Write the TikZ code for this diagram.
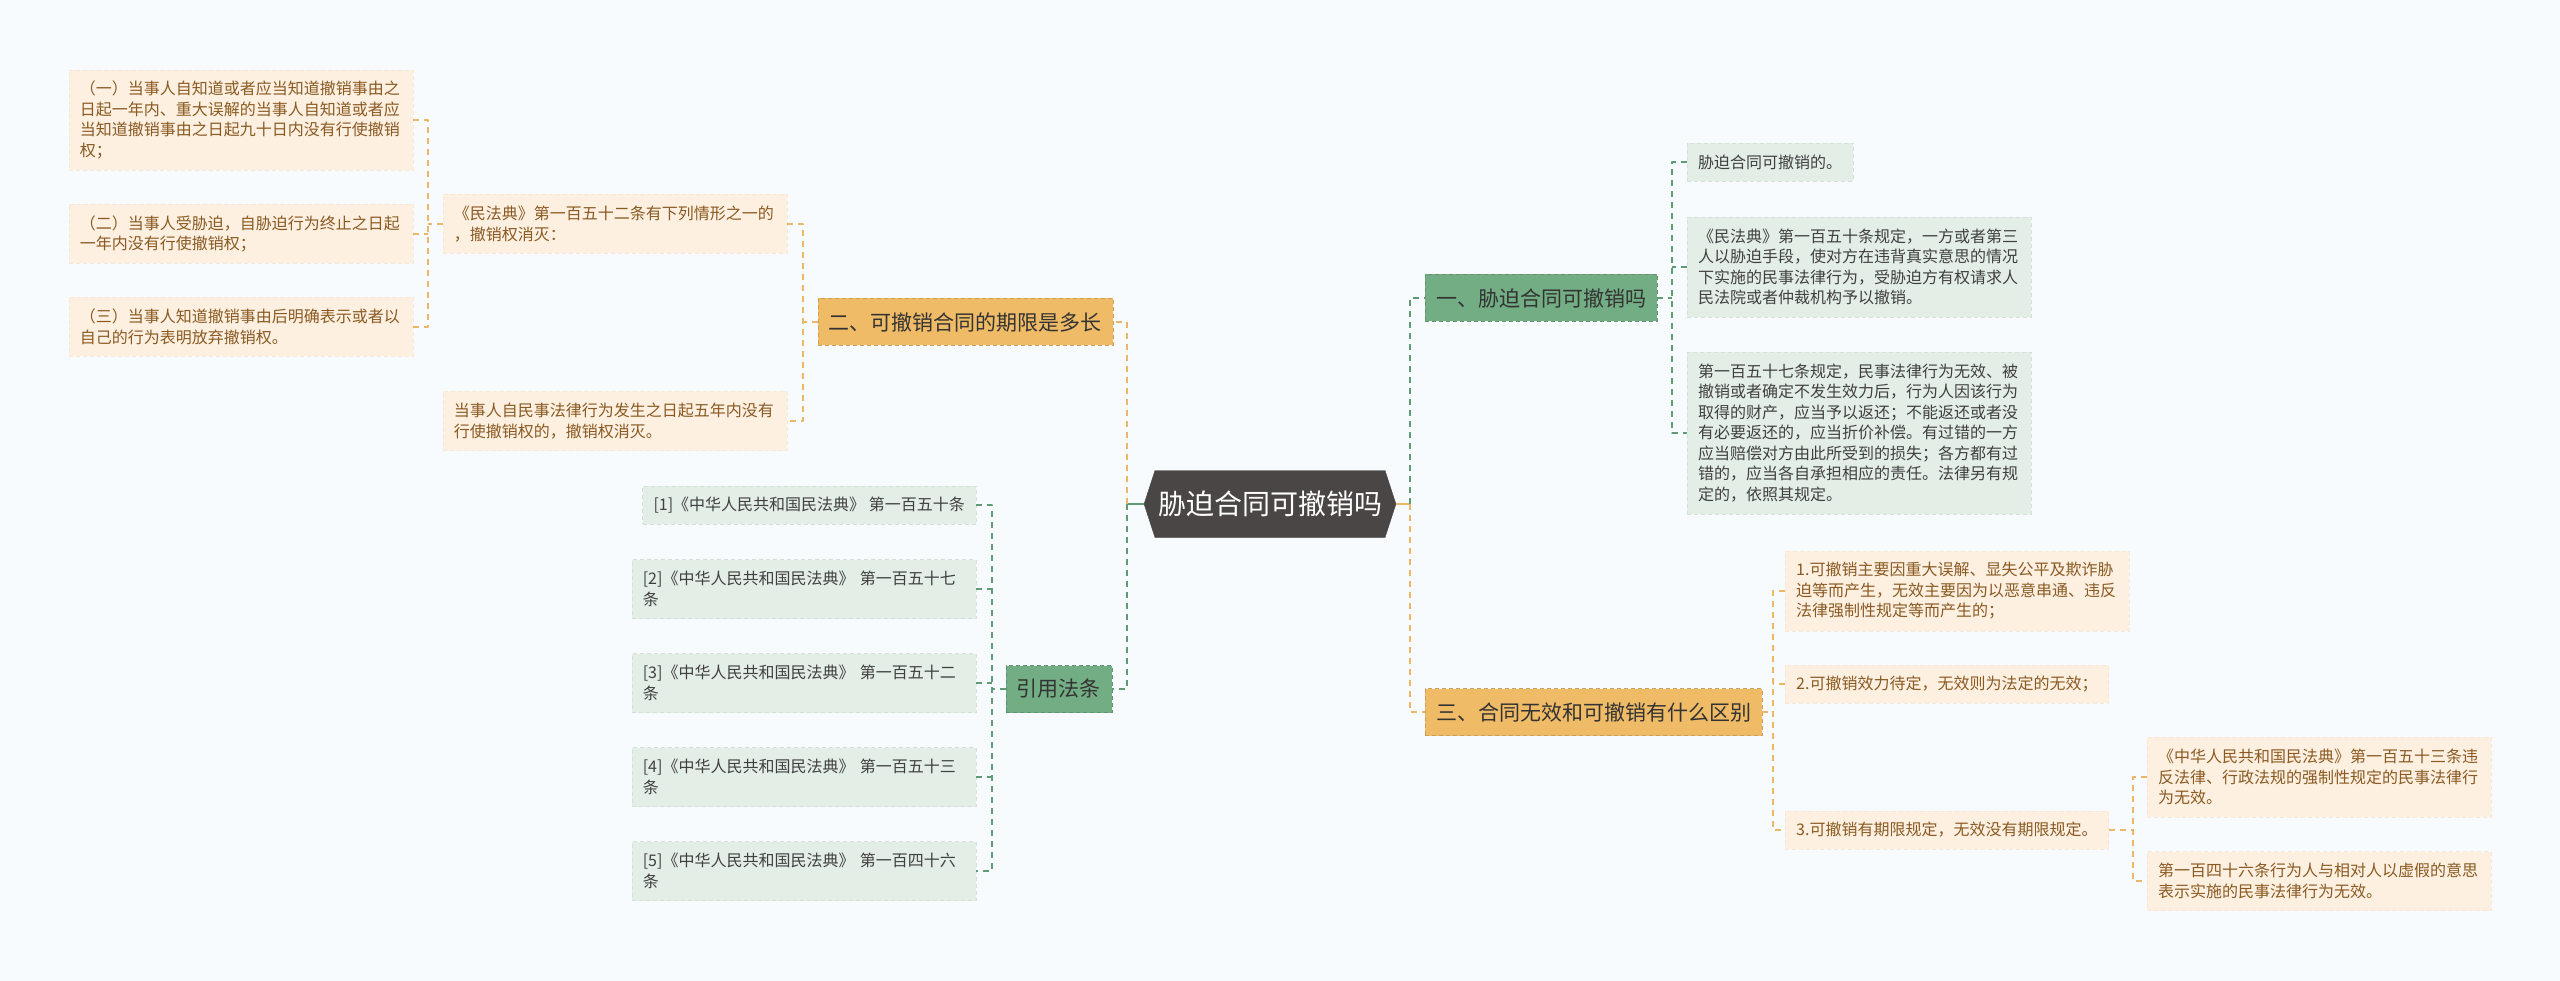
\documentclass[tikz,border=0pt]{standalone}
\usepackage{fontspec}
\setmainfont{Noto Sans CJK SC}
\usetikzlibrary{shapes.symbols}
\definecolor{bgc}{HTML}{F8FBFD}
\definecolor{rootc}{HTML}{4A4646}
\definecolor{orangeB}{HTML}{EFBB67}
\definecolor{greenB}{HTML}{73AD84}
\definecolor{creamL}{HTML}{FDF0E1}
\definecolor{mintL}{HTML}{E3EEE7}
\definecolor{brownT}{HTML}{8A5A22}
\definecolor{orangeC}{HTML}{E9B767}
\definecolor{greenC}{HTML}{5F9C76}
\begin{document}
\begin{tikzpicture}[x=1pt,y=-1pt,line join=round,
	root/.style={shape=signal,signal to=west and east,signal pointer angle=144,fill=rootc,draw=black!75,text=white,font=\fontsize{28}{32}\selectfont,minimum height=67pt,inner xsep=3pt},
	branchO/.style={fill=orangeB,draw=orangeB!85!black,dash pattern=on 4pt off 3pt,text=black!80,font=\fontsize{21}{25}\selectfont,minimum height=47pt,inner xsep=11pt},
	branchG/.style={branchO,fill=greenB,draw=greenB!85!black},
	leafO/.style={fill=creamL,draw=creamL!94!brownT,dash pattern=on 4pt off 3pt,text=brownT,font=\fontsize{16}{20.5}\selectfont,align=left,inner xsep=11pt,inner ysep=0pt},
	leafG/.style={leafO,fill=mintL,draw=mintL!94!black,text=black!75},
	nl/.style={minimum height=#1*20.5pt+18pt},
	lnO/.style={orangeC,line width=1.5pt,dash pattern=on 6pt off 5pt},
	lnG/.style={greenC,line width=1.5pt,dash pattern=on 6pt off 5pt}]
	\fill[bgc] (0,0) rectangle (2560,981);
	\useasboundingbox (0,0) rectangle (2560,981);
	\node[root] (root) at (1270,504) {胁迫合同可撤销吗};
	\coordinate (stubL) at (1127,504);
	\coordinate (stubR) at (1410,504);
	% 一
	\node[branchG,anchor=west] (one) at (1425,298) {一、胁迫合同可撤销吗};
	\node[leafG,nl=1,anchor=west] (one-a) at (1687,162) {胁迫合同可撤销的。};
	\node[leafG,nl=4,text width=322pt,anchor=west] (one-b) at (1687,267) {《民法典》第一百五十条规定，一方或者第三\\人以胁迫手段，使对方在违背真实意思的情况\\下实施的民事法律行为，受胁迫方有权请求人\\民法院或者仲裁机构予以撤销。};
	\node[leafG,nl=7,text width=322pt,anchor=west] (one-c) at (1687,433) {第一百五十七条规定，民事法律行为无效、被\\撤销或者确定不发生效力后，行为人因该行为\\取得的财产，应当予以返还；不能返还或者没\\有必要返还的，应当折价补偿。有过错的一方\\应当赔偿对方由此所受到的损失；各方都有过\\错的，应当各自承担相应的责任。法律另有规\\定的，依照其规定。};
	\coordinate (jOne) at (1672,298);
	% 三
	\node[branchO,anchor=west] (three) at (1425,712) {三、合同无效和可撤销有什么区别};
	\node[leafO,nl=3,text width=322pt,anchor=west] (three-a) at (1785,591) {1.可撤销主要因重大误解、显失公平及欺诈胁\\迫等而产生，无效主要因为以恶意串通、违反\\法律强制性规定等而产生的；};
	\node[leafO,nl=1,anchor=west] (three-b) at (1785,684) {2.可撤销效力待定，无效则为法定的无效；};
	\node[leafO,nl=1,anchor=west] (three-c) at (1785,830) {3.可撤销有期限规定，无效没有期限规定。};
	\node[leafO,nl=3,text width=322pt,anchor=west] (three-c1) at (2147,777) {《中华人民共和国民法典》第一百五十三条违\\反法律、行政法规的强制性规定的民事法律行\\为无效。};
	\node[leafO,nl=2,text width=322pt,anchor=west] (three-c2) at (2147,881) {第一百四十六条行为人与相对人以虚假的意思\\表示实施的民事法律行为无效。};
	\coordinate (jThree) at (1773,712);
	\coordinate (jThreeC) at (2133,830);
	% 二
	\node[branchO,anchor=east] (two) at (1113,322) {二、可撤销合同的期限是多长};
	\node[leafO,nl=2,text width=322pt,anchor=east] (two-a) at (787,224) {《民法典》第一百五十二条有下列情形之一的\\，撤销权消灭：};
	\node[leafO,nl=2,text width=322pt,anchor=east] (two-b) at (787,421) {当事人自民事法律行为发生之日起五年内没有\\行使撤销权的，撤销权消灭。};
	\node[leafO,nl=4,text width=322pt,anchor=east] (two-a1) at (413,120) {（一）当事人自知道或者应当知道撤销事由之\\日起一年内、重大误解的当事人自知道或者应\\当知道撤销事由之日起九十日内没有行使撤销\\权；};
	\node[leafO,nl=2,text width=322pt,anchor=east] (two-a2) at (413,234) {（二）当事人受胁迫，自胁迫行为终止之日起\\一年内没有行使撤销权；};
	\node[leafO,nl=2,text width=322pt,anchor=east] (two-a3) at (413,327) {（三）当事人知道撤销事由后明确表示或者以\\自己的行为表明放弃撤销权。};
	\coordinate (jTwo) at (803,322);
	\coordinate (jTwoA) at (428,224);
	% 引用法条
	\node[branchG,anchor=east] (cite) at (1112,689) {引用法条};
	\node[leafG,nl=1,anchor=east] (cite-1) at (976,505) {[1]《中华人民共和国民法典》 第一百五十条};
	\node[leafG,nl=2,text width=322pt,anchor=east] (cite-2) at (976,589) {[2]《中华人民共和国民法典》 第一百五十七\\条};
	\node[leafG,nl=2,text width=322pt,anchor=east] (cite-3) at (976,683) {[3]《中华人民共和国民法典》 第一百五十二\\条};
	\node[leafG,nl=2,text width=322pt,anchor=east] (cite-4) at (976,777) {[4]《中华人民共和国民法典》 第一百五十三\\条};
	\node[leafG,nl=2,text width=322pt,anchor=east] (cite-5) at (976,871) {[5]《中华人民共和国民法典》 第一百四十六\\条};
	\coordinate (jCite) at (992,689);
	% connectors
	\draw[greenC,line width=2pt] (root.west) -- (stubL);
	\draw[orangeC,line width=2pt] (root.east) -- (stubR);
	\draw[lnO] (stubL) |- (two.east);
	\draw[lnG] (stubL) |- (cite.east);
	\draw[lnG] (stubR) |- (one.west);
	\draw[lnO] (stubR) |- (three.west);
	\draw[lnG] (one.east) -- (jOne);
	\draw[lnG] (one-a.west) -| (jOne) |- (one-c.west);
	\draw[lnG] (one-b.west) -- (one-b.west -| jOne);
	\draw[lnO] (three.east) -- (jThree);
	\draw[lnO] (three-a.west) -| (jThree) |- (three-c.west);
	\draw[lnO] (three-b.west) -- (three-b.west -| jThree);
	\draw[lnO] (three-c.east) -- (jThreeC);
	\draw[lnO] (three-c1.west) -| (jThreeC) |- (three-c2.west);
	\draw[lnO] (two.west) -- (jTwo);
	\draw[lnO] (two-a.east) -| (jTwo) |- (two-b.east);
	\draw[lnO] (two-a.west) -- (jTwoA);
	\draw[lnO] (two-a1.east) -| (jTwoA) |- (two-a3.east);
	\draw[lnO] (two-a2.east) -- (two-a2.east -| jTwoA);
	\draw[lnG] (cite.west) -- (jCite);
	\draw[lnG] (cite-1.east) -| (jCite) |- (cite-5.east);
	\foreach \k in {2,3,4}
		\draw[lnG] (cite-\k.east) -- (cite-\k.east -| jCite);
\end{tikzpicture}
\end{document}
